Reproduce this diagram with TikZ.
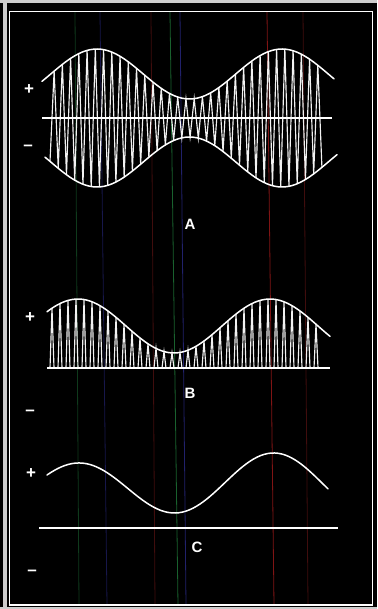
\documentclass[tikz,border=0pt]{standalone}
\usepackage{fontspec}
\setmainfont{Liberation Sans}
\tikzset{
wave/.style={draw=white,line width=1.5pt,line cap=round},
carrier/.style={draw=white!95!black,line width=1.15pt},
axisline/.style={draw=white,line width=1.3pt},
sign/.style={text=white,font=\fontsize{17}{17}\selectfont\bfseries,inner sep=0pt},
letter/.style={text=white,font=\fontsize{15}{15}\selectfont\bfseries,inner sep=0pt},
streak/.style={line width=.8pt}
}
\definecolor{scangreen}{rgb}{0.1,0.38,0.18}
\definecolor{scanblue}{rgb}{0.13,0.13,0.42}
\definecolor{scanred}{rgb}{0.5,0.08,0.08}
\definecolor{scandark}{rgb}{0.25,0.05,0.05}

\begin{document}
\begin{tikzpicture}[x=1pt,y=-1pt,
  declare function={envA(\t)=44+25*cos(1.94595*(\t-97));
                    envB(\t)=42+27*cos(1.875*(\t-78));
                    ampC(\t)=25+0.02564*(\t-77);}]
\useasboundingbox (0,0) rectangle (377,609);
\fill[black] (0,0) rectangle (377,609);
\fill[black!20] (0,0) rectangle (377,3);
\fill[black!20] (3,0) rectangle (6.5,609);
\fill[black!20] (0,607) rectangle (377,609);

% scanner streaks
\draw[streak,scangreen!60!black] (75,12) -- (79,605);
\draw[streak,scanblue!70!black] (100,12) -- (107,605);
\draw[streak,scandark] (151,12) -- (155,605);
\draw[streak,scangreen] (170,12) -- (178,605);
\draw[streak,scanblue] (180,12) -- (186,605);
\draw[streak,scanred] (267,12) -- (274,605);
\draw[streak,scandark] (303,12) -- (308,605);

\draw[white,line width=1.1pt] (9.5,11.5) rectangle (372.5,605);

% A: modulated carrier
\draw[carrier] plot[samples at={0,...,66}] ({50+4.12*\x},{118+cos(180*mod(\x,2))*envA(50+4.12*\x)});
\draw[wave] plot[domain=42:334,samples=80,smooth] (\x,{118-envA(\x)});
\draw[wave] plot[domain=45:337,samples=80,smooth] (\x,{118+envA(\x)});
\draw[axisline] (42,118) -- (332,118);
\node[sign] (plusA) at (29,90) {+};
\node[sign] (minusA) at (28,148) {--};
\node[letter] (labA) at (190,224) {A};

% B: rectified
\draw[carrier] plot[samples at={0,...,136}] ({50+2*\x},{368-envB(50+2*\x)*(mod(\x,4)==1)});
\draw[wave] plot[domain=47:330,samples=80,smooth] (\x,{368-envB(\x)});
\draw[axisline] (47,368) -- (330,368);
\node[sign] (plusB) at (30,318) {+};
\node[sign] (minusB) at (30,413) {--};
\node[letter] (labB) at (190,393) {B};

% C: audio
\draw[wave] plot[domain=47:328,samples=80,smooth] (\x,{488-0.02564*(\x-77)-ampC(\x)*cos(1.84615*(\x-77))});
\draw[axisline] (39,528) -- (338,528);
\node[sign] (plusC) at (31,474) {+};
\node[sign] (minusC) at (32,573) {--};
\node[letter] (labC) at (197,547) {C};
\end{tikzpicture}
\end{document}
